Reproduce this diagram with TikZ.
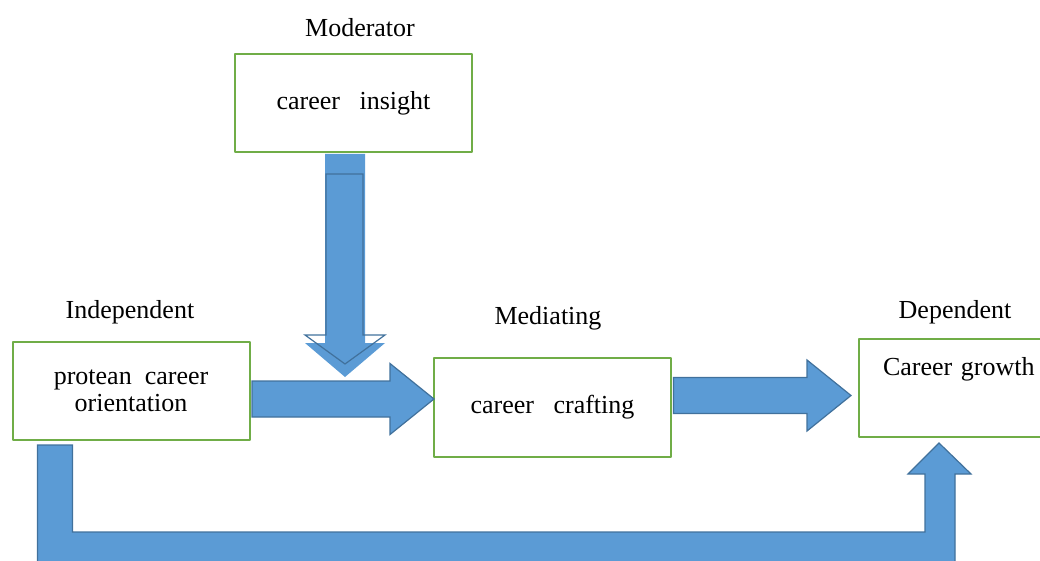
\documentclass[tikz,border=0pt]{standalone}
\usepackage{fontspec}
\setmainfont{Liberation Serif}
\usetikzlibrary{calc}
\definecolor{arrowfill}{HTML}{5B9BD5}
\definecolor{arrowline}{HTML}{41719C}
\definecolor{boxgreen}{HTML}{70AD47}
\tikzset{
	varbox/.style={draw=boxgreen, line width=2pt, fill=white, minimum width=237pt, minimum height=98pt, align=center, inner sep=0pt},
	vartitle/.style={inner sep=0pt},
	blockarrow/.style={fill=arrowfill, draw=arrowline, line width=1.2pt, line join=miter}
}
% horizontal block arrow: start point, target node, gap before target
\newcommand{\hblock}[3]{%
	\filldraw[blockarrow] let \p1=(#1), \p2=(#2) in
	(\x1,\y1+18pt) -- (\x2-#3pt-44pt,\y1+18pt) -- (\x2-#3pt-44pt,\y1+35.5pt) -- (\x2-#3pt,\y1)
	-- (\x2-#3pt-44pt,\y1-35.5pt) -- (\x2-#3pt-44pt,\y1-18pt) -- (\x1,\y1-18pt) -- cycle;}
\begin{document}
\begin{tikzpicture}[x=1pt, y=1pt, font=\fontsize{26}{27}\selectfont, line join=round]
			\useasboundingbox (0,0) rectangle (1040,560);
			\clip (0,0) rectangle (1040,560);
			% boxes
			\node[varbox] (mod) at (353.5,457) {career\ \ \ insight};
			\node[varbox] (ind) at (131,169) {protean\ \ career\\orientation};
			\node[varbox, minimum height=99pt] (med) at (552.5,152.5) {career\ \ \ crafting};
			\node[varbox, text width=189pt, align=left] (dep) at (977.5,172) {Career growth\\[8pt]\strut};
			% titles
			\node[vartitle] (modtitle) at (360,532) {Moderator};
			\node[vartitle] (indtitle) at (130,248) {Independent};
			\node[vartitle] (medtitle) at (548,242) {Mediating};
			\node[vartitle] (deptitle) at (955,248) {Dependent};
			% main path
			\hblock{$(ind.east)+(1.5,-8)$}{med.west}{-1}
			\hblock{$(med.east)+(1.5,12)$}{dep.west}{7}
			% moderator arrow
			\coordinate (modtop) at ($(mod.south)+(-8.5,-1)$);
			\coordinate (modtip) at (345,183);
			\fill[arrowfill] let \p1=(modtop), \p2=(modtip) in
				(\x1-20pt,\y1) -- (\x1+20pt,\y1) -- (\x1+20pt,\y2+34pt) -- (\x1+40pt,\y2+34pt) -- (\x2,\y2)
				-- (\x1-40pt,\y2+34pt) -- (\x1-20pt,\y2+34pt) -- cycle;
			\draw[arrowline, line width=1.2pt, line join=miter] let \p1=(modtop), \p2=(modtip) in
				(\x1-19pt,\y1-20pt) -- (\x1+18pt,\y1-20pt) -- (\x1+18pt,\y2+42pt) -- (\x1+40pt,\y2+42pt) -- (\x2,\y2+13pt)
				-- (\x1-40pt,\y2+42pt) -- (\x1-19pt,\y2+42pt) -- cycle;
			% direct path below
			\coordinate (loopstart) at ($(ind.south west)+(26,-4)$);
			\coordinate (looptip) at ($(dep.south west)+(81,-5)$);
			\filldraw[blockarrow] let \p1=(loopstart), \p2=(looptip) in
				(\x1,\y1) -- (\x1+35pt,\y1) -- (\x1+35pt,28pt) -- (\x2-14pt,28pt) -- (\x2-14pt,\y2-31pt) -- (\x2-31pt,\y2-31pt)
				-- (\x2,\y2) -- (\x2+32pt,\y2-31pt) -- (\x2+16pt,\y2-31pt) -- (\x2+16pt,-7pt) -- (\x1,-7pt) -- cycle;
		\end{tikzpicture}
\end{document}
